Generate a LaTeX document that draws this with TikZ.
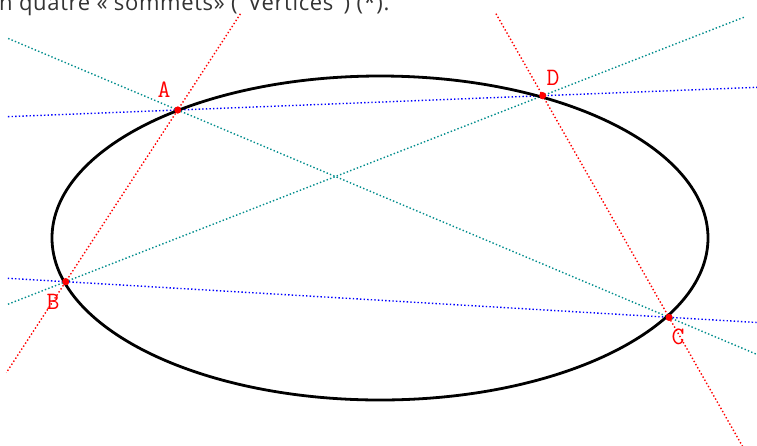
\documentclass[tikz,border=0pt]{standalone}
\usepackage{fontspec}
\newfontfamily\headfont[LetterSpace=3]{Open Sans}
\usetikzlibrary{calc}
\definecolor{PtRed}{RGB}{255,0,0}
\definecolor{LineBlue}{RGB}{0,0,255}
\definecolor{LineTeal}{RGB}{0,140,140}
\tikzset{
  vertex/.style={circle,fill=PtRed,inner sep=0pt,minimum size=7pt},
  vertexlabel/.style={text=PtRed,font=\ttfamily\fontsize{25}{25}\selectfont,inner sep=0pt},
  dotline/.style={line width=1.4pt,dash pattern=on 1.4pt off 2.2pt},
  redline/.style={dotline,draw=PtRed},
  blueline/.style={dotline,draw=LineBlue},
  tealline/.style={dotline,draw=LineTeal},
  conic/.style={draw=black,line width=2.8pt}
}
\begin{document}
\begin{tikzpicture}[x=1pt,y=-1pt]
\useasboundingbox (0,0) rectangle (757,445);
\clip (0,0) rectangle (757,445);
% caption, cut at the top
\node[anchor=base west,inner sep=0pt,text=black!80,font=\headfont\fontsize{22}{22}\selectfont] (caption) at (-1,10.5) {n quatre «~sommets» ("Vertices") (*).};
% the four points
\node[vertex] (A) at (177.7,110) {};
\node[vertex] (B) at (65.7,281.7) {};
\node[vertex] (C) at (669,317.3) {};
\node[vertex] (D) at (542.7,95.7) {};
% lines through pairs of points
\draw[redline] ($(A)!-0.56!(B)$) -- ($(A)!1.53!(B)$);
\draw[redline] ($(D)!-0.37!(C)$) -- ($(D)!1.6!(C)$);
\draw[blueline] ($(A)!-0.465!(D)$) -- ($(A)!1.59!(D)$);
\draw[blueline] ($(B)!-0.096!(C)$) -- ($(B)!1.146!(C)$);
\draw[tealline] ($(A)!-0.345!(C)$) -- ($(A)!1.18!(C)$);
\draw[tealline] ($(B)!-0.121!(D)$) -- ($(B)!1.424!(D)$);
% the ellipse
\draw[conic] (380,238) ellipse [x radius=328,y radius=162];
\node[vertex] at (A) {};
\node[vertex] at (B) {};
\node[vertex] at (C) {};
\node[vertex] at (D) {};
\node[vertexlabel] (lA) at (164,90) {A};
\node[vertexlabel] (lB) at (53,302) {B};
\node[vertexlabel] (lC) at (678,337) {C};
\node[vertexlabel] (lD) at (553,78) {D};
\end{tikzpicture}
\end{document}
